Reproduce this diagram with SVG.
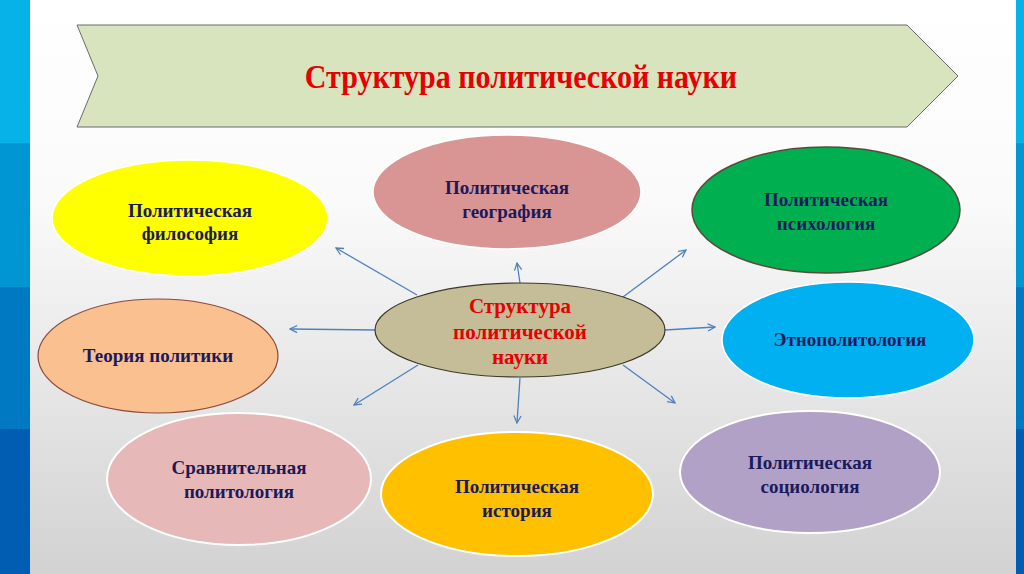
<svg xmlns="http://www.w3.org/2000/svg" width="1024" height="574" viewBox="0 0 1024 574">
<defs>
<linearGradient id="bg" x1="0" y1="0" x2="0" y2="1">
<stop offset="0" stop-color="#ffffff"/>
<stop offset="0.35" stop-color="#fafafa"/>
<stop offset="1" stop-color="#d2d2d2"/>
</linearGradient>
<marker id="arr" viewBox="0 0 10 10" refX="9" refY="5" markerWidth="9" markerHeight="9" markerUnits="userSpaceOnUse" orient="auto">
<path d="M1,1 L9,5 L1,9" fill="none" stroke="#4f81bd" stroke-width="1.4"/>
</marker>
</defs>
<style>
.lbl{font-family:"Liberation Serif","Times New Roman",serif;font-weight:bold;font-size:19px;fill:#1a1a5c;text-anchor:middle}
.red{font-family:"Liberation Serif","Times New Roman",serif;font-weight:bold;fill:#e60000;text-anchor:middle}
.conn line{stroke:#4f81bd;stroke-width:1.3;marker-end:url(#arr)}
</style>
<rect x="0" y="0" width="1024" height="574" fill="url(#bg)"/>
<g id="stripes">
<rect x="0" y="0" width="30" height="143" fill="#06b2e8"/>
<rect x="0" y="143" width="30" height="144" fill="#0096d3"/>
<rect x="0" y="287" width="30" height="142" fill="#0079c3"/>
<rect x="0" y="429" width="30" height="145" fill="#005db1"/>
<rect x="1016" y="0" width="8" height="143" fill="#06b2e8"/>
<rect x="1016" y="143" width="8" height="144" fill="#0096d3"/>
<rect x="1016" y="287" width="8" height="142" fill="#0079c3"/>
<rect x="1016" y="429" width="8" height="145" fill="#005db1"/>
</g>
<g id="banner">
<polygon points="77,25 907,25 958,76 907,127 77,127 98,76" fill="#d7e4bd" stroke="#6b6b6b" stroke-width="1"/>
<text class="red" transform="translate(521,88) scale(1,1.13)" x="0" y="0" font-size="30">Структура политической науки</text>
</g>
<g class="conn" id="connectors">
<line x1="417" y1="295" x2="336" y2="248"/>
<line x1="520" y1="283" x2="517" y2="263"/>
<line x1="623" y1="297" x2="686" y2="250"/>
<line x1="376" y1="330" x2="290" y2="329"/>
<line x1="665" y1="330" x2="715" y2="327"/>
<line x1="418" y1="365" x2="354" y2="405"/>
<line x1="520" y1="378" x2="517" y2="423"/>
<line x1="623" y1="365" x2="675" y2="403"/>
</g>
<g id="n-philosophy">
<ellipse cx="190" cy="218" rx="138" ry="58" fill="#ffff00" stroke="#ffffff" stroke-width="1.5"/>
<text class="lbl" x="190" y="217">Политическая</text>
<text class="lbl" x="190" y="240">философия</text>
</g>
<g id="n-geography">
<ellipse cx="507" cy="192" rx="134" ry="57" fill="#d99594" stroke="#ffffff" stroke-width="1.5"/>
<text class="lbl" x="507" y="194">Политическая</text>
<text class="lbl" x="507" y="218">география</text>
</g>
<g id="n-psychology">
<ellipse cx="826" cy="210" rx="134" ry="63" fill="#00b050" stroke="#5a4a3a" stroke-width="1.5"/>
<text class="lbl" x="826" y="206">Политическая</text>
<text class="lbl" x="826" y="230">психология</text>
</g>
<g id="n-theory">
<ellipse cx="158" cy="356" rx="120" ry="57" fill="#fac090" stroke="#8b4a3a" stroke-width="1.2"/>
<text class="lbl" x="158" y="362">Теория политики</text>
</g>
<g id="n-ethno">
<ellipse cx="848" cy="340" rx="126" ry="58" fill="#00b0f0" stroke="#ffffff" stroke-width="1.5"/>
<text class="lbl" x="850" y="346">Этнополитология</text>
</g>
<g id="n-comparative">
<ellipse cx="239" cy="479" rx="132" ry="66" fill="#e6b9b8" stroke="#ffffff" stroke-width="2"/>
<text class="lbl" x="239" y="474">Сравнительная</text>
<text class="lbl" x="239" y="498">политология</text>
</g>
<g id="n-history">
<ellipse cx="517" cy="494" rx="136" ry="62" fill="#ffc000" stroke="#ffffff" stroke-width="2"/>
<text class="lbl" x="517" y="493">Политическая</text>
<text class="lbl" x="517" y="517">история</text>
</g>
<g id="n-sociology">
<ellipse cx="810" cy="472" rx="130" ry="61" fill="#b2a1c7" stroke="#ffffff" stroke-width="2"/>
<text class="lbl" x="810" y="469">Политическая</text>
<text class="lbl" x="810" y="493">социология</text>
</g>
<g id="n-center">
<ellipse cx="520" cy="330" rx="145" ry="47" fill="#c4bd97" stroke="#3a3a2a" stroke-width="1.2"/>
<text class="red" x="520" y="313" font-size="21">Структура</text>
<text class="red" x="520" y="339" font-size="21">политической</text>
<text class="red" x="520" y="364" font-size="21">науки</text>
</g>
</svg>
